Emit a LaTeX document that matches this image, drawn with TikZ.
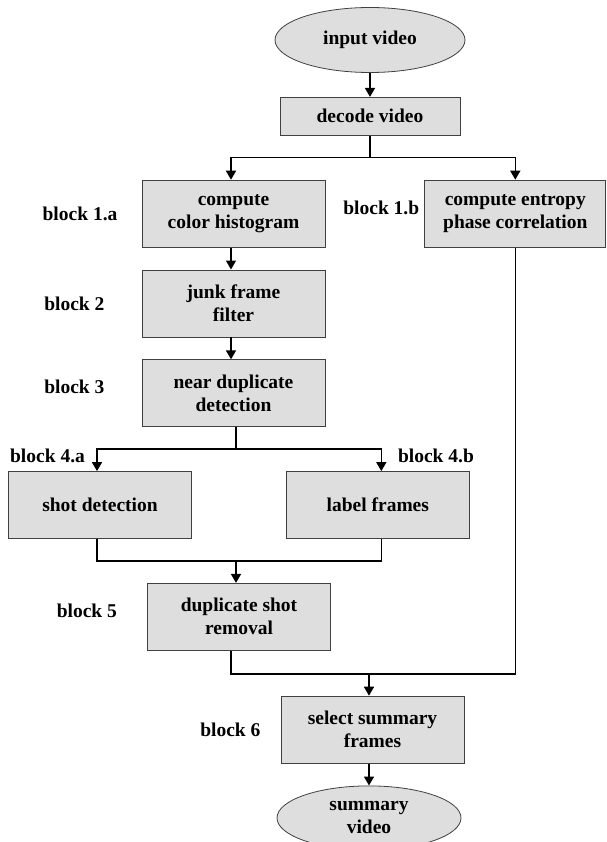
\documentclass[tikz,border=0pt]{standalone}
\usepackage{fontspec}
\setmainfont{Liberation Serif}
\usetikzlibrary{positioning, arrows.meta, shapes.geometric}

\begin{document}
\begin{tikzpicture}[
  stage/.style={draw=black!75, fill=black!13, minimum width=183pt, minimum height=67pt,
                inner sep=0pt, align=center, line width=0.8pt,
                font=\fontsize{19.5}{23}\selectfont\bfseries},
  stage_thin/.style={stage, minimum width=180pt, minimum height=38pt},
  term/.style={ellipse, draw=black!75, fill=black!13, minimum width=190pt, minimum height=65pt,
               inner sep=0pt, align=center, line width=0.8pt,
               font=\fontsize{19.5}{23}\selectfont\bfseries},
  arr/.style={-{Triangle[length=9pt, width=10pt]}, line width=1.6pt},
  link/.style={line width=1.6pt},
  lbl/.style={inner sep=0pt, font=\fontsize{19.5}{23}\selectfont\bfseries},
]

% Page frame
\useasboundingbox (0,0) rectangle (606pt,-842pt);

% Input and decoding
\node[term] (m1) at (370pt,-40pt) {input video};
\node[stage_thin, below=24pt of m1] (m2) {decode video};

% Two branches
\node[stage, below=44pt of m2, xshift=-136.5pt] (m3) {compute\\color histogram};
\node[stage, right=99pt of m3, minimum width=181pt] (m4) {compute entropy\\phase correlation};
\node[stage, below=22pt of m3] (m5) {junk frame\\filter};
\node[stage, below=22pt of m5] (m6) {near duplicate\\detection};

% Shots and labels
\node[stage, below=44pt of m6, xshift=-133.5pt] (m7) {shot detection};
\node[stage, right=94pt of m7] (m8) {label frames};
\node[stage, below=44pt of m7, xshift=139pt] (m9) {duplicate shot\\removal};

% Output
\node[stage, below=45pt of m9, xshift=133.5pt] (m10) {select summary\\frames};
\node[term, below=22pt of m10, xshift=-3.5pt, minimum width=184pt, minimum height=64pt] (m11)
  {summary\\video};

% Block labels
\node[lbl, left=24pt of m3] {block 1.a};
\node[lbl, left=5pt of m4, yshift=6pt] {block 1.b};
\node[lbl, left=37pt of m5] {block 2};
\node[lbl, left=37pt of m6, yshift=6pt] {block 3};
\node[lbl] at (47.5pt,-456pt) {block 4.a};
\node[lbl] at (436pt,-456pt) {block 4.b};
\node[lbl, left=30pt of m9, yshift=6pt] {block 5};
\node[lbl, left=20pt of m10] {block 6};

% Branch and join points
\coordinate[below=22pt of m2] (s1);
\coordinate[below=22pt of m6, xshift=2.5pt] (s2);
\coordinate[above=22pt of m9, xshift=-3pt] (j1);
\coordinate[above=22pt of m10, xshift=-3.5pt] (j2);

% Arrows
\draw[arr] (m1) -- (m2);
\draw[arr] (m2.south) -- (s1) -| ([xshift=-2.5pt]m3.north);
\draw[arr] (s1) -| (m4.north);
\draw[arr] ([xshift=-2.5pt]m3.south) -- ([xshift=-2.5pt]m5.north);
\draw[arr] ([xshift=-2.5pt]m5.south) -- ([xshift=-2.5pt]m6.north);
\draw[arr] (s2 |- m6.south) -- (s2) -| ([xshift=-3pt]m7.north);
\draw[arr] (s2) -| ([xshift=3.5pt]m8.north);
\draw[link] ([xshift=-3pt]m7.south) |- (j1) -| ([xshift=3.5pt]m8.south);
\draw[arr] (j1) -- (j1 |- m9.north);
\draw[link] ([xshift=-8pt]m9.south) |- (j2) -| (m4.south);
\draw[arr] (j2) -- (j2 |- m10.north);
\draw[arr] (j2 |- m10.south) -- (j2 |- m11.north);

\end{tikzpicture}
\end{document}
